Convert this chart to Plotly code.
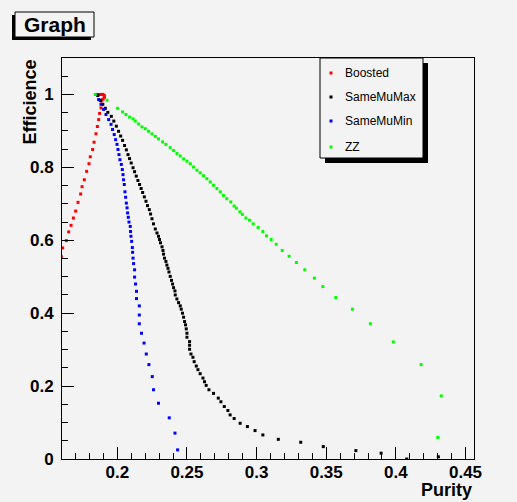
import plotly.graph_objects as go

# ---------------- data ----------------
boosted_x = [0.1598, 0.1608, 0.1634, 0.1651, 0.1668, 0.1685, 0.1701, 0.1718, 0.1737, 0.1747,
             0.1763, 0.1780, 0.1797, 0.1806, 0.1823, 0.1833, 0.1847, 0.1857, 0.1866, 0.1873,
             0.1883, 0.1885, 0.1897, 0.1907, 0.1907, 0.1897, 0.1883, 0.1869, 0.1857]
boosted_y = [0.555, 0.579, 0.599, 0.623, 0.641, 0.661, 0.680, 0.704, 0.727, 0.747,
             0.766, 0.789, 0.810, 0.829, 0.849, 0.869, 0.892, 0.912, 0.931, 0.948,
             0.963, 0.982, 0.987, 0.992, 0.997, 1.000, 1.000, 1.000, 0.999]

samemumax_x = [0.1860, 0.1878, 0.1896, 0.1914, 0.1932, 0.1957, 0.1975, 0.1993, 0.2009, 0.2024,
               0.2038, 0.2052, 0.2065, 0.2077, 0.2088, 0.2100, 0.2113, 0.2124, 0.2136, 0.2148,
               0.2160, 0.2171, 0.2182, 0.2194, 0.2206, 0.2217, 0.2230, 0.2239, 0.2249, 0.2260,
               0.2273, 0.2285, 0.2296, 0.2303, 0.2310, 0.2321, 0.2328, 0.2332, 0.2339, 0.2349,
               0.2356, 0.2364, 0.2371, 0.2380, 0.2389, 0.2397, 0.2404, 0.2414, 0.2416, 0.2428,
               0.2440, 0.2452, 0.2459, 0.2468, 0.2476, 0.2483, 0.2490, 0.2495, 0.2500, 0.2500,
               0.2519, 0.2519, 0.2519, 0.2529, 0.2543, 0.2552, 0.2567, 0.2579, 0.2595, 0.2615,
               0.2626, 0.2638, 0.2658, 0.2691, 0.2725, 0.2744, 0.2768, 0.2794, 0.2810, 0.2839,
               0.2882, 0.2934, 0.2989, 0.3045, 0.3156, 0.3317, 0.3479, 0.3713, 0.3894, 0.4078,
               0.4305]
samemumax_y = [0.997, 0.984, 0.973, 0.962, 0.951, 0.940, 0.927, 0.913, 0.899, 0.886,
               0.874, 0.860, 0.848, 0.835, 0.824, 0.812, 0.799, 0.788, 0.776, 0.764,
               0.753, 0.742, 0.731, 0.719, 0.707, 0.695, 0.684, 0.672, 0.659, 0.645,
               0.631, 0.620, 0.611, 0.602, 0.593, 0.582, 0.572, 0.562, 0.551, 0.542,
               0.532, 0.523, 0.513, 0.501, 0.490, 0.480, 0.470, 0.461, 0.450, 0.439,
               0.429, 0.420, 0.411, 0.400, 0.389, 0.377, 0.368, 0.357, 0.345, 0.334,
               0.322, 0.312, 0.301, 0.288, 0.279, 0.267, 0.255, 0.245, 0.234, 0.222,
               0.212, 0.202, 0.190, 0.180, 0.167, 0.157, 0.144, 0.133, 0.121, 0.111,
               0.098, 0.089, 0.078, 0.066, 0.054, 0.046, 0.034, 0.023, 0.016, 0.000,
               0.006]

samemumin_x = [0.1849, 0.1866, 0.1883, 0.1902, 0.1919, 0.1938, 0.1955, 0.1966, 0.1978, 0.1988,
               0.1998, 0.2005, 0.2012, 0.2019, 0.2029, 0.2036, 0.2041, 0.2045, 0.2050, 0.2055,
               0.2060, 0.2065, 0.2070, 0.2074, 0.2079, 0.2084, 0.2093, 0.2095, 0.2098, 0.2103,
               0.2108, 0.2110, 0.2113, 0.2117, 0.2124, 0.2124, 0.2131, 0.2138, 0.2138, 0.2158,
               0.2158, 0.2158, 0.2174, 0.2192, 0.2208, 0.2227, 0.2251, 0.2260, 0.2296, 0.2373,
               0.2414, 0.2433]
samemumin_y = [1.000, 0.986, 0.973, 0.959, 0.945, 0.931, 0.918, 0.904, 0.890, 0.876,
               0.863, 0.849, 0.835, 0.821, 0.808, 0.794, 0.780, 0.766, 0.753, 0.733,
               0.718, 0.702, 0.689, 0.675, 0.663, 0.650, 0.638, 0.624, 0.611, 0.597,
               0.580, 0.567, 0.551, 0.536, 0.519, 0.499, 0.480, 0.460, 0.440, 0.420,
               0.395, 0.371, 0.345, 0.318, 0.288, 0.259, 0.226, 0.190, 0.153, 0.113,
               0.071, 0.025]

zz_x = [0.1842, 0.1926, 0.2002, 0.2038, 0.2062, 0.2088, 0.2113, 0.2129, 0.2153, 0.2177,
        0.2201, 0.2224, 0.2249, 0.2273, 0.2296, 0.2325, 0.2349, 0.2380, 0.2404, 0.2428,
        0.2452, 0.2476, 0.2500, 0.2524, 0.2547, 0.2572, 0.2595, 0.2619, 0.2643, 0.2667,
        0.2691, 0.2715, 0.2739, 0.2762, 0.2786, 0.2815, 0.2839, 0.2855, 0.2880, 0.2898,
        0.2923, 0.2949, 0.2976, 0.3011, 0.3045, 0.3071, 0.3105, 0.3141, 0.3184, 0.3234,
        0.3286, 0.3346, 0.3415, 0.3476, 0.3569, 0.3688, 0.3817, 0.3982, 0.4181, 0.4326,
        0.4301]
zz_y = [1.000, 0.984, 0.962, 0.952, 0.945, 0.938, 0.933, 0.927, 0.919, 0.911,
        0.906, 0.899, 0.892, 0.885, 0.878, 0.870, 0.863, 0.854, 0.846, 0.838,
        0.831, 0.823, 0.817, 0.810, 0.801, 0.792, 0.785, 0.777, 0.769, 0.760,
        0.751, 0.742, 0.733, 0.723, 0.714, 0.705, 0.694, 0.688, 0.678, 0.671,
        0.661, 0.655, 0.645, 0.635, 0.624, 0.612, 0.602, 0.589, 0.572, 0.556,
        0.539, 0.519, 0.496, 0.473, 0.443, 0.411, 0.371, 0.321, 0.259, 0.173,
        0.059]

series_names = ["Boosted", "SameMuMax", "SameMuMin", "ZZ"]
series_colors = ["#ff0000", "#000000", "#0000ff", "#00ff00"]

# ---------------- layout geometry ----------------
W, H = 517, 502
ML, MR, MT, MB = 62, 43, 58, 43
PW, PH = W - ML - MR, H - MT - MB
BG = "#f3f3f3"
FONT = "Liberation Sans, Arial, Helvetica, sans-serif"


def fx(px):
    return (px - ML) / PW


def fy(py):
    return (H - MB - py) / PH


fig = go.Figure()
for xs, ys, name, col in zip([boosted_x, samemumax_x, samemumin_x, zz_x],
                             [boosted_y, samemumax_y, samemumin_y, zz_y],
                             series_names, series_colors):
    fig.add_trace(go.Scatter(x=xs, y=ys, mode="markers", name=name,
                             marker=dict(symbol="square", size=3, color=col, line=dict(width=0)),
                             showlegend=False, cliponaxis=True, hoverinfo="skip"))

shapes = []
annotations = []

# title box with shadow
shapes.append(dict(type="rect", xref="paper", yref="paper", x0=fx(12), x1=fx(91), y0=fy(40), y1=fy(15),
                   fillcolor="#000000", line=dict(width=0), layer="above"))
shapes.append(dict(type="rect", xref="paper", yref="paper", x0=fx(15), x1=fx(94), y0=fy(37), y1=fy(12),
                   fillcolor=BG, line=dict(color="#000000", width=1), layer="above"))
annotations.append(dict(text="<b>Graph</b>", xref="paper", yref="paper", x=fx(54.5), y=fy(24.5),
                        xanchor="center", yanchor="middle", showarrow=False,
                        font=dict(family=FONT, size=21, color="#000000")))

# legend box with shadow
shapes.append(dict(type="rect", xref="paper", yref="paper", x0=fx(325), x1=fx(428), y0=fy(163), y1=fy(63),
                   fillcolor="#000000", line=dict(width=0), layer="above"))
shapes.append(dict(type="rect", xref="paper", yref="paper", x0=fx(320), x1=fx(423), y0=fy(158), y1=fy(58),
                   fillcolor=BG, line=dict(color="#000000", width=1), layer="above"))
legend_rows = [73, 97, 121, 147]
for name, col, ry in zip(series_names, series_colors, legend_rows):
    shapes.append(dict(type="rect", xref="paper", yref="paper", x0=fx(329.5), x1=fx(332.5),
                       y0=fy(ry + 1.5), y1=fy(ry - 1.5), fillcolor=col, line=dict(width=0), layer="above"))
    annotations.append(dict(text=name, xref="paper", yref="paper", x=fx(343), y=fy(ry),
                            xanchor="left", yanchor="middle", showarrow=False,
                            font=dict(family=FONT, size=12, color="#000000")))

# axis titles
annotations.append(dict(text="<b>Purity</b>", xref="paper", yref="paper", x=fx(474), y=fy(490),
                        xanchor="right", yanchor="middle", showarrow=False,
                        font=dict(family=FONT, size=18, color="#000000")))
annotations.append(dict(text="<b>Efficience</b>", xref="paper", yref="paper", x=fx(29), y=fy(58),
                        xanchor="center", yanchor="top", textangle=-90, showarrow=False,
                        font=dict(family=FONT, size=18, color="#000000")))

axis_common = dict(showgrid=False, zeroline=False, showline=True, linecolor="#000000", linewidth=1,
                   mirror=True, ticks="inside", ticklen=12, tickwidth=1, tickcolor="#000000",
                   tickfont=dict(family=FONT, size=17, color="#000000", weight="bold"))

fig.update_layout(
    width=W, height=H, autosize=False,
    margin=dict(l=ML, r=MR, t=MT, b=MB, pad=0),
    paper_bgcolor=BG, plot_bgcolor=BG,
    showlegend=False,
    xaxis=dict(range=[0.1603, 0.4561], tick0=0.2, dtick=0.05, ticklabelstandoff=-2,
               minor=dict(dtick=0.01, tick0=0.2, ticks="inside", ticklen=6, tickcolor="#000000", tickwidth=1),
               **axis_common),
    yaxis=dict(range=[0, 1.1], tick0=0, dtick=0.2, ticklabelstandoff=4,
               minor=dict(dtick=0.05, tick0=0, ticks="inside", ticklen=6, tickcolor="#000000", tickwidth=1),
               **axis_common),
    shapes=shapes, annotations=annotations,
)

fig.write_html("out.html",
               config=dict(displayModeBar=False, staticPlot=True),
               post_script="document.body.style.margin='0';document.body.style.padding='0';"
                           "document.body.style.overflow='hidden';"
                           "document.body.style.background='" + BG + "';")
